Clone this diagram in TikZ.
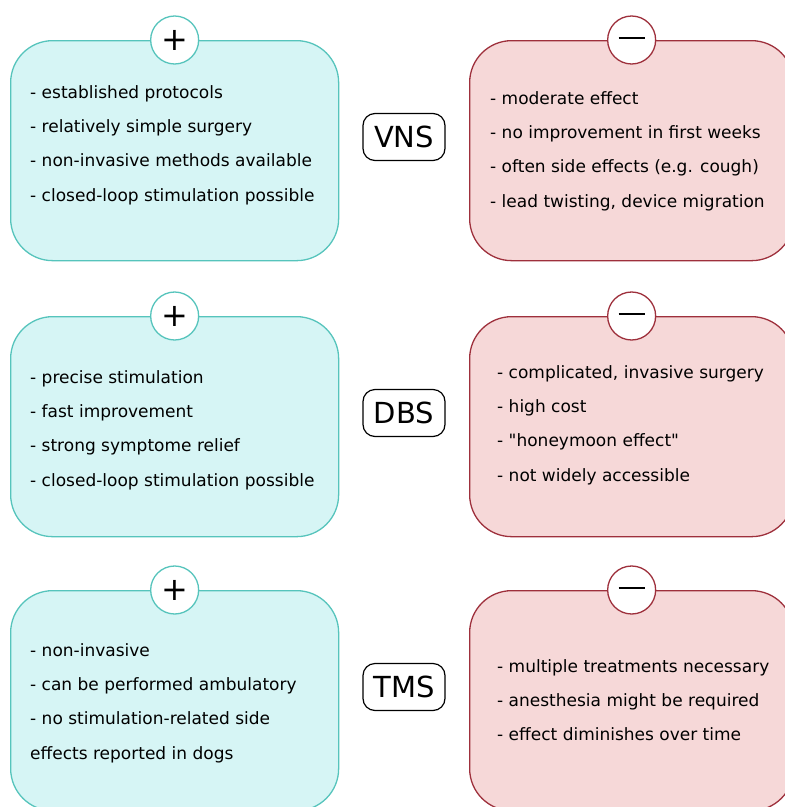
\documentclass[tikz,border=0pt]{standalone}
\usepackage{fontspec}
\setmainfont{DejaVu Sans}
\usetikzlibrary{positioning}
\definecolor{profill}{RGB}{214,245,245}
\definecolor{proedge}{RGB}{86,196,188}
\definecolor{confill}{RGB}{246,216,216}
\definecolor{conedge}{RGB}{158,48,60}
\tikzset{
    probox/.style={draw=proedge, fill=profill, line width=1.3pt, rounded corners=42pt, minimum width=328pt, minimum height=220pt, anchor=north west},
    conbox/.style={draw=conedge, fill=confill, line width=1.3pt, rounded corners=42pt, minimum width=324pt, minimum height=220pt, anchor=north west},
    signdot/.style={circle, fill=white, line width=1.3pt, minimum size=48pt, inner sep=0pt},
    listtext/.style={anchor=west, align=left, inner sep=0pt, font=\fontsize{17}{34.3}\selectfont},
    method/.style={draw, rounded corners=12pt, line width=1.2pt, minimum width=82pt, minimum height=47pt, inner sep=0pt, font=\fontsize{29}{30}\selectfont}
}
\begin{document}
\begin{tikzpicture}[x=1pt,y=-1pt]
\useasboundingbox (0,0) rectangle (785,807);
\clip (0,0) rectangle (785,807);
% the three methods
\foreach \m/\lab/\y in {vns/VNS/40, dbs/DBS/316, tms/TMS/590}{
    \node[probox] (\m pro) at (10,\y) {};
    \node[conbox] (\m con) at (469,\y) {};
    \node[signdot, draw=proedge, font=\fontsize{32}{32}\selectfont] (\m plus) at (\m pro.north) {+};
    \node[signdot, draw=conedge] (\m minus) at (\m con.north) {};
    \draw[line width=2.6pt] ([xshift=-13pt,yshift=2pt]\m minus.center) -- ([xshift=13pt,yshift=2pt]\m minus.center);
    \node[method] (\m) at (404,\y+97) {\lab};
}
% advantages
\node[listtext] (vnsprotext) at (30,145) {- established protocols\\- relatively simple surgery\\- non-invasive methods available\\- closed-loop stimulation possible};
\node[listtext] (dbsprotext) at (30,430) {- precise stimulation\\- fast improvement\\- strong symptome relief\\- closed-loop stimulation possible};
\node[listtext] (tmsprotext) at (30,703) {- non-invasive\\- can be performed ambulatory\\- no stimulation-related side\\effects reported in dogs};
% disadvantages
\node[listtext] (vnscontext) at (490,151) {- moderate effect\\- no improvement in first weeks\\- often side effects (e.g. cough)\\- lead twisting, device migration};
\node[listtext] (dbscontext) at (497,425) {- complicated, invasive surgery\\- high cost\\- \textquotedbl honeymoon effect\textquotedbl\\- not widely accessible};
\node[listtext] (tmscontext) at (497,700) {- multiple treatments necessary\\- anesthesia might be required\\- effect diminishes over time};
\end{tikzpicture}
\end{document}
